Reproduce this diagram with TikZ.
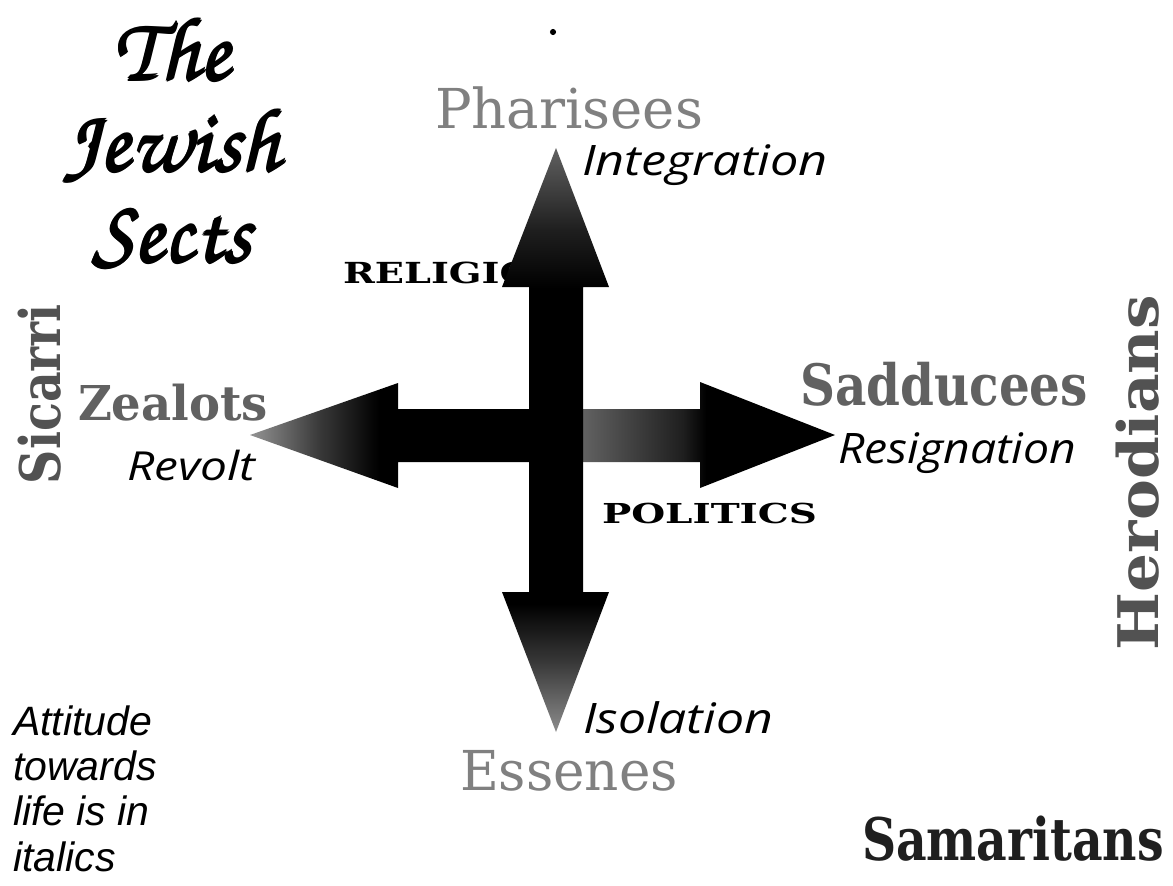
\documentclass[tikz,border=0pt]{standalone}
\usepackage[T1]{fontenc}
\usepackage{fontspec}
\usepackage{graphicx}
\setmainfont{DejaVu Serif}
\newfontfamily\sectfont{DejaVu Serif}
\newfontfamily\lifefont{Open Sans}
\newfontfamily\notefont{Liberation Sans}
\newlength\px \setlength\px{0.75pt}
\newcommand\fitw[2]{\resizebox{#1\px}{\height}{#2}}
\newcommand\fb[1]{\leavevmode\rlap{#1}\rlap{\kern1.4pt#1}\rlap{\kern0.7pt\raisebox{0.8pt}{#1}}\rlap{\kern0.7pt\raisebox{-0.8pt}{#1}}\kern1.4pt\phantom{#1}}
\colorlet{hA}{black!42}
\colorlet{hB}{black!78}
\colorlet{hC}{black!62}
\colorlet{vA}{black!45}
\colorlet{vB}{black!78}
\colorlet{vT}{black!62}
\colorlet{vU}{black!88}
\pgfdeclarehorizontalshading{hshade}{100bp}{color(0bp)=(hA); color(25bp)=(hA); color(31bp)=(hB); color(36bp)=(black); color(49bp)=(black); color(53.5bp)=(hC); color(62bp)=(vU); color(64bp)=(black); color(100bp)=(black)}
\pgfdeclareverticalshading{vshade}{100bp}{color(0bp)=(vA); color(25bp)=(vA); color(31bp)=(vB); color(36bp)=(black); color(63bp)=(black); color(68bp)=(vU); color(75bp)=(vT); color(100bp)=(vT)}
\tikzset{
  txt/.style={inner sep=0pt, outer sep=0pt, anchor=base west},
  sect/.style={txt, text=black!55, font=\sectfont\fontsize{#1}{#1}\selectfont},
  boldsect/.style={txt, text=black!62, font=\sectfont\bfseries\fontsize{#1}{#1}\selectfont},
  life/.style={txt, text=black, font=\lifefont\itshape\fontsize{#1}{#1}\selectfont},
  axislabel/.style={txt, text=black, font=\sectfont\bfseries\fontsize{#1}{#1}\selectfont},
  titlefont/.style={txt, anchor=base, text=black, font=\fontencoding{T1}\fontfamily{pzc}\fontseries{mb}\fontshape{it}\fontsize{67pt}{68.25pt}\selectfont},
  notefont/.style={txt, text=black, font=\notefont\itshape\fontsize{30.75pt}{34.1pt}\selectfont},
}
\begin{document}
\begin{tikzpicture}[x=0.75pt, y=-0.75pt]
\fill[white] (0,0) rectangle (1173,885);
\useasboundingbox (0,0) rectangle (1173,885);

% title
\node[titlefont] (title) at (172,80) {\parbox[t]{320\px}{\centering\fb{The}\\\fb{Jewish}\\\fb{Sects}}};
\fill (553,32) circle (2.3pt);

% axis label partly under the arrow head
\node[axislabel=21.75pt] (religion) at (343,283) {\fitw{225}{RELIGION}};

% horizontal double arrow
\path[shading=hshade] (250,435) -- (398,383) -- (398,409) -- (700,409) -- (700,382) -- (835,435)
  -- (700,488) -- (700,462) -- (398,462) -- (398,488) -- cycle;
% vertical double arrow
\path[shading=vshade] (556,148) -- (609,287) -- (583,287) -- (583,592) -- (609,592) -- (556,732)
  -- (502,592) -- (529,592) -- (529,287) -- (502,287) -- cycle;

\node[axislabel=20.6pt] (politics) at (602,523) {\fitw{215}{POLITICS}};

% sects
\node[sect=41.25pt, text=black!50] (pharisees) at (435,128) {\fitw{268}{Pharisees}};
\node[boldsect=42.75pt] (sadducees) at (800,405) {\fitw{288}{Sadducees}};
\node[boldsect=36pt] (zealots) at (78,420) {\fitw{190}{Zealots}};
\node[sect=41.25pt, text=black!50] (essenes) at (460,790) {\fitw{218}{Essenes}};
\node[boldsect=42pt, text=black!68, rotate=90] (sicarri) at (60,484) {\fitw{180}{Sicarri}};
\node[boldsect=42pt, text=black!68, rotate=90] (herodians) at (1158,650) {\fitw{355}{Herodians}};
\node[boldsect=44pt, text=black!88] (samaritans) at (862,860) {\fitw{302}{Samaritans}};

% attitudes
\node[life=31.5pt] (integration) at (582,175) {\fitw{246}{Integration}};
\node[life=30pt] (revolt) at (127,480) {\fitw{128}{Revolt}};
\node[life=31.5pt] (resignation) at (838,463) {\fitw{238}{Resignation}};
\node[life=31.5pt] (isolation) at (583,733) {\fitw{190}{Isolation}};

% note
\node[notefont] (note) at (13,735) {\parbox[t]{260\px}{\raggedright Attitude\\towards\\life is in\\italics}};
\end{tikzpicture}
\end{document}
